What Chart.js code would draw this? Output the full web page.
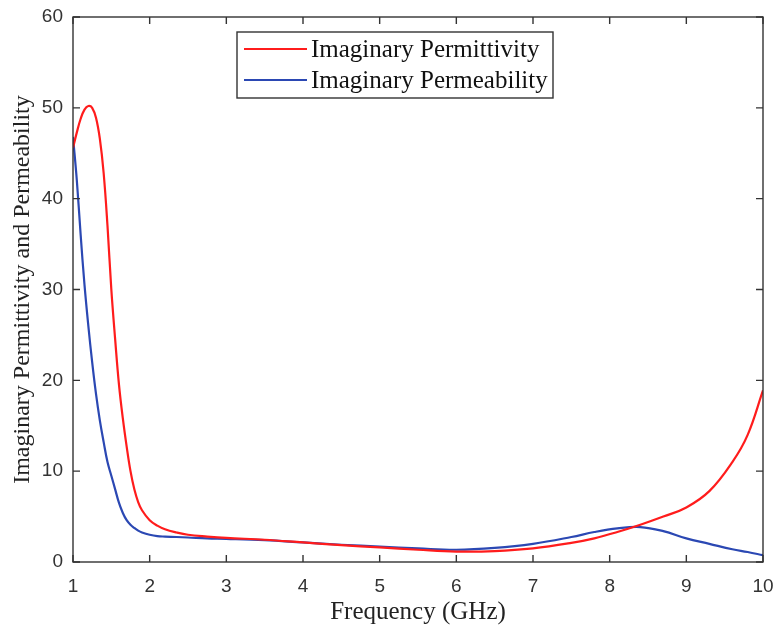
<!DOCTYPE html>
<html>
<head>
<meta charset="utf-8">
<script src="https://cdn.jsdelivr.net/npm/chart.js@4"></script>
<style>
  html, body { margin: 0; padding: 0; background: #fff; }
  #wrap { width: 775px; height: 630px; }
</style>
</head>
<body>
<div id="wrap"><canvas id="chart" width="775" height="630"></canvas></div>
<script>
// values
const freq = [1, 1.05, 1.1, 1.15, 1.2, 1.25, 1.3, 1.35, 1.4, 1.45, 1.5, 1.55, 1.6, 1.65, 1.7, 1.75, 1.8, 1.85, 1.9, 2.0, 2.1, 2.2, 2.35, 2.5, 2.75,
              3, 3.5, 4, 4.5, 5, 5.5, 6, 6.5, 7, 7.5, 7.8, 8.1, 8.4, 8.7, 9, 9.3, 9.6, 9.8, 10];
const permittivity = [45.6, 47.3, 48.8, 49.8, 50.2, 50.0, 48.9, 46.6, 42.8, 37.0, 30.0, 24.5, 19.5, 15.8, 12.7, 10.0, 8.0, 6.6, 5.7, 4.6, 4.0, 3.6, 3.25, 3.0, 2.8,
                      2.65, 2.45, 2.15, 1.85, 1.6, 1.35, 1.15, 1.2, 1.5, 2.1, 2.6, 3.3, 4.1, 5.0, 6.0, 7.8, 11.0, 14.0, 18.9];
const permeability = [46.8, 42.0, 36.0, 30.5, 26.0, 22.0, 18.5, 15.6, 13.2, 11.0, 9.5, 8.0, 6.5, 5.4, 4.6, 4.1, 3.75, 3.45, 3.25, 3.0, 2.85, 2.8, 2.75, 2.7, 2.6,
                      2.55, 2.4, 2.15, 1.9, 1.7, 1.5, 1.35, 1.55, 2.0, 2.75, 3.3, 3.7, 3.85, 3.4, 2.6, 2.0, 1.4, 1.1, 0.75];
const xTicks = [1, 2, 3, 4, 5, 6, 7, 8, 9, 10];
const yTicks = [0, 10, 20, 30, 40, 50, 60];

const toPoints = (ys) => freq.map((f, i) => ({ x: f, y: ys[i] }));

// MATLAB style box with inward ticks on every side
const boxPlugin = {
    id: 'box',
    afterDatasetsDraw(chart) {
        const { ctx, chartArea: a, scales } = chart;
        ctx.save();
        ctx.strokeStyle = '#333';
        ctx.lineWidth = 1.4;
        ctx.strokeRect(a.left, a.top, a.right - a.left, a.bottom - a.top);
        ctx.beginPath();
        xTicks.forEach(v => {
            const px = scales.x.getPixelForValue(v);
            ctx.moveTo(px, a.bottom); ctx.lineTo(px, a.bottom - 7);
            ctx.moveTo(px, a.top); ctx.lineTo(px, a.top + 7);
        });
        yTicks.forEach(v => {
            const py = scales.y.getPixelForValue(v);
            ctx.moveTo(a.left, py); ctx.lineTo(a.left + 7, py);
            ctx.moveTo(a.right, py); ctx.lineTo(a.right - 7, py);
        });
        ctx.stroke();
        ctx.restore();
    }
};

// boxed legend inside the plot
const legendPlugin = {
    id: 'boxLegend',
    afterDraw(chart) {
        const { ctx } = chart;
        const x0 = 237, y0 = 32, w = 316, h = 66;
        ctx.save();
        ctx.fillStyle = '#fff';
        ctx.fillRect(x0, y0, w, h);
        ctx.strokeStyle = '#333';
        ctx.lineWidth = 1.4;
        ctx.strokeRect(x0, y0, w, h);
        ctx.font = '25px "Liberation Serif", "Times New Roman", serif';
        ctx.textBaseline = 'middle';
        chart.data.datasets.forEach((ds, i) => {
            const y = y0 + 17 + i * 31;
            ctx.strokeStyle = ds.borderColor;
            ctx.lineWidth = 2.2;
            ctx.beginPath();
            ctx.moveTo(x0 + 7, y); ctx.lineTo(x0 + 70, y);
            ctx.stroke();
            ctx.fillStyle = '#111';
            ctx.fillText(ds.label, x0 + 74, y + 1);
        });
        ctx.restore();
    }
};

new Chart(document.getElementById('chart'), {
    type: 'line',
    data: {
        datasets: [
            {
                label: 'Imaginary Permittivity',
                data: toPoints(permittivity),
                borderColor: '#ff1c1c',
                borderWidth: 2.2,
                pointRadius: 0,
                tension: 0.4,
                fill: false
            },
            {
                label: 'Imaginary Permeability',
                data: toPoints(permeability),
                borderColor: '#2b48b3',
                borderWidth: 2.2,
                pointRadius: 0,
                tension: 0.4,
                fill: false
            }
        ]
    },
    options: {
        responsive: false,
        animation: false,
        layout: { padding: { top: 17, right: 12, left: 0, bottom: 0 } },
        plugins: {
            legend: { display: false },
            tooltip: { enabled: false }
        },
        scales: {
            x: {
                type: 'linear',
                min: 1,
                max: 10,
                afterBuildTicks: (s) => { s.ticks = xTicks.map(v => ({ value: v })); },
                afterFit: (s) => { s.height = 68; s.paddingLeft = 0; s.paddingRight = 0; },
                grid: { display: false, drawTicks: false },
                border: { display: false },
                ticks: {
                    padding: 13,
                    color: '#333',
                    font: { family: '"Liberation Sans", Arial, sans-serif', size: 19 }
                },
                title: {
                    display: true,
                    text: 'Frequency (GHz)',
                    color: '#222',
                    padding: { top: 0, bottom: 3 },
                    font: { family: '"Liberation Serif", "Times New Roman", serif', size: 25 }
                }
            },
            y: {
                min: 0,
                max: 60,
                afterBuildTicks: (s) => { s.ticks = yTicks.map(v => ({ value: v })); },
                afterFit: (s) => { s.width = 73; s.paddingTop = 0; s.paddingBottom = 0; },
                grid: { display: false, drawTicks: false },
                border: { display: false },
                ticks: {
                    padding: 10,
                    color: '#333',
                    font: { family: '"Liberation Sans", Arial, sans-serif', size: 19 }
                },
                title: {
                    display: true,
                    text: 'Imaginary Permittivity and Permeability',
                    color: '#222',
                    padding: { top: 8, bottom: 0 },
                    font: { family: '"Liberation Serif", "Times New Roman", serif', size: 24 }
                }
            }
        }
    },
    plugins: [boxPlugin, legendPlugin]
});
</script>
</body>
</html>
